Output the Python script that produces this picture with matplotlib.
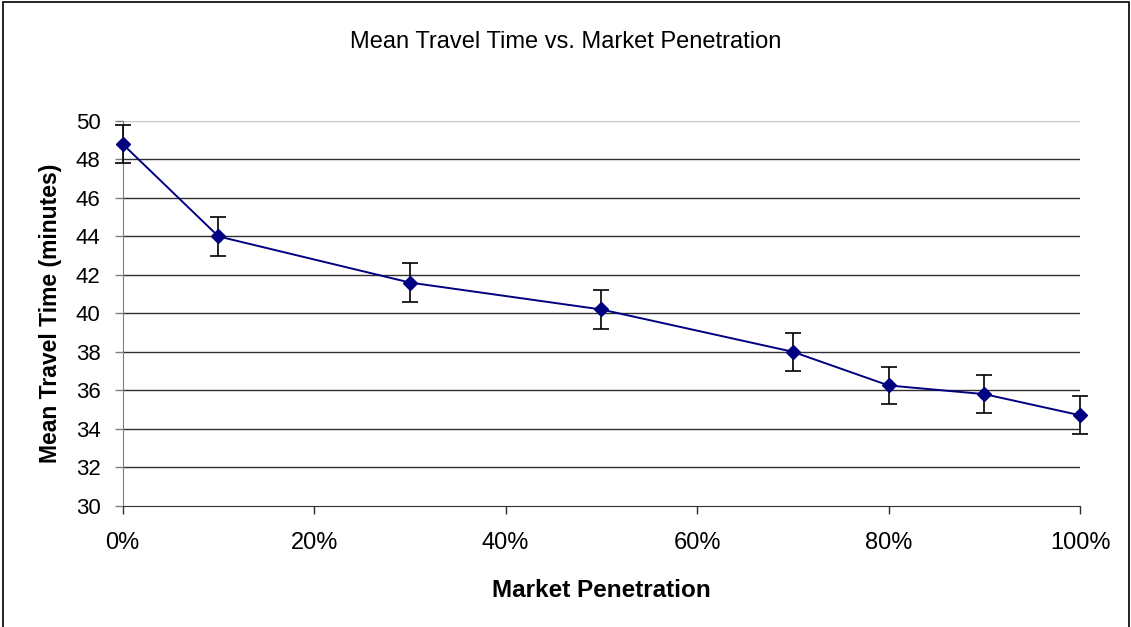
import matplotlib
matplotlib.use('Agg')
import matplotlib.pyplot as plt
from matplotlib.patches import Rectangle
from matplotlib.ticker import FuncFormatter

# market penetration (fraction) vs mean travel time
penetration = [0.0, 0.1, 0.3, 0.5, 0.7, 0.8, 0.9, 1.0]
travel_time = [48.8, 44.0, 41.6, 40.2, 38.0, 36.25, 35.8, 34.7]
error = [1.0, 1.0, 1.0, 1.0, 1.0, 0.95, 0.97, 0.98]

yticks = list(range(30, 51, 2))
xticks = [0.0, 0.2, 0.4, 0.6, 0.8, 1.0]

plt.rcParams['font.family'] = ['Liberation Sans', 'DejaVu Sans']

fig = plt.figure(figsize=(11.31, 6.27), dpi=100)
ax = fig.add_axes([0.1085, 0.1935, 0.8465, 0.6135])

for y in yticks[1:-1]:
    ax.axhline(y, color='#303030', linewidth=1, zorder=1)
ax.axhline(50, color='#c8c8c8', linewidth=1, zorder=1)

eb = ax.errorbar(penetration, travel_time, yerr=error, color='#000080',
                 ecolor='black', elinewidth=1.2, capsize=6, capthick=1.2,
                 linewidth=1.4, marker='D', markersize=7, zorder=3)
for artist in eb.get_children():
    artist.set_clip_on(False)

ax.set_xlim(0, 1)
ax.set_ylim(30, 50)
ax.set_xticks(xticks)
ax.set_yticks(yticks)
ax.xaxis.set_major_formatter(FuncFormatter(lambda v, p: '%d%%' % round(v * 100)))

for s in ['top', 'right']:
    ax.spines[s].set_visible(False)
ax.spines['left'].set_color('#808080')
ax.spines['bottom'].set_color('#303030')
ax.tick_params(axis='y', direction='out', length=6, width=1, color='#808080',
               labelsize=16, pad=10)
ax.tick_params(axis='x', direction='out', length=6, width=1, color='#303030',
               labelsize=17, pad=13)

ax.set_xlabel('Market Penetration', fontsize=17.5, fontweight='bold', labelpad=18)
ax.set_ylabel('Mean Travel Time (minutes)', fontsize=16.5, fontweight='bold', labelpad=10)
fig.text(0.5, 0.933, 'Mean Travel Time vs. Market Penetration', ha='center',
         va='center', fontsize=17)

# outer chart border
fig.patches.append(Rectangle((3 / 1131, -0.01), 1126 / 1131, 1 - 2 / 627 + 0.01,
                             transform=fig.transFigure, fill=False,
                             edgecolor='black', linewidth=1.2))

fig.savefig('out.png', dpi=100)
